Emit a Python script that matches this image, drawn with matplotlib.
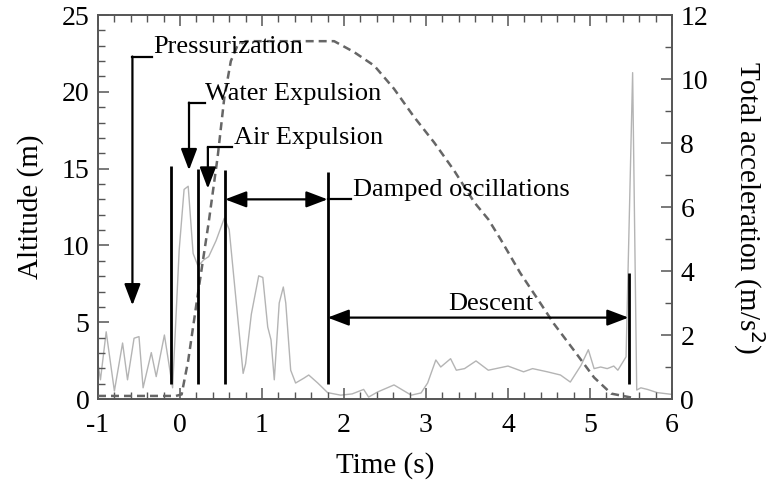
import matplotlib
matplotlib.use("Agg")
import matplotlib.pyplot as plt
from matplotlib.ticker import MultipleLocator

plt.rcParams['font.family'] = ['Liberation Serif', 'DejaVu Serif']
plt.rcParams['axes.unicode_minus'] = False

# altitude (m), dashed, left axis
alt_t = [-1.0, -0.2, -0.05, 0.02, 0.1, 0.22, 0.35, 0.46, 0.54, 0.62, 0.7, 0.8,
         1.88, 2.12, 2.37, 2.61, 2.85, 3.1, 3.34, 3.59, 3.76, 3.91, 4.15, 4.4,
         4.56, 4.8, 5.05, 5.26, 5.5]
alt_m = [0.2, 0.2, 0.2, 0.3, 2.5, 6.9, 11.5, 15.8, 19.6, 22.0, 23.0, 23.3,
         23.3, 22.6, 21.7, 20.2, 18.4, 16.7, 14.9, 12.8, 11.7, 10.4, 8.2, 6.2,
         4.9, 3.2, 1.4, 0.35, 0.1]

# total acceleration (m/s^2), grey, right axis
acc_t = [-1.0, -0.97, -0.9, -0.8, -0.7, -0.64, -0.56, -0.5, -0.45, -0.35, -0.29,
         -0.19, -0.09, -0.01, 0.05, 0.1, 0.16, 0.22, 0.29, 0.35, 0.44, 0.54, 0.6,
         0.77, 0.8, 0.87, 0.96, 1.01, 1.07, 1.11, 1.15, 1.21, 1.26, 1.29, 1.35,
         1.41, 1.51, 1.57, 1.68, 1.8, 1.96, 2.1, 2.24, 2.3, 2.41, 2.61, 2.82,
         2.94, 3.02, 3.12, 3.18, 3.3, 3.37, 3.47, 3.61, 3.76, 4.0, 4.19, 4.3,
         4.48, 4.64, 4.76, 4.89, 4.98, 5.05, 5.13, 5.21, 5.29, 5.34, 5.44, 5.52,
         5.57, 5.62, 5.7, 5.82, 5.98]
acc_v = [1.1, 0.6, 2.1, 0.25, 1.75, 0.6, 1.9, 1.95, 0.35, 1.45, 0.7,
         2.0, 0.35, 4.65, 6.55, 6.65, 4.55, 4.15, 4.35, 4.45, 4.95, 5.65, 5.3,
         0.8, 1.1, 2.65, 3.85, 3.8, 2.25, 1.85, 0.6, 3.0, 3.5, 3.0, 0.9,
         0.5, 0.65, 0.75, 0.5, 0.2, 0.12, 0.16, 0.3, 0.06, 0.22, 0.44, 0.12,
         0.19, 0.5, 1.22, 1.0, 1.26, 0.9, 0.95, 1.19, 0.9, 1.03, 0.85, 0.95,
         0.85, 0.75, 0.53, 1.05, 1.54, 0.95, 1.0, 0.95, 1.03, 0.9, 1.32, 10.2,
         0.28, 0.35, 0.3, 0.2, 0.15]

# phase boundaries (s) and the heights of their marker lines (m)
phase_t = [-0.11, 0.22, 0.55, 1.8, 5.47]
phase_top = [15.2, 15.0, 14.9, 14.8, 8.2]

fig = plt.figure(figsize=(7.74, 4.86), dpi=100)
ax = fig.add_axes([0.1266, 0.179, 0.7416, 0.790])
ax2 = ax.twinx()

ax2.plot(acc_t, acc_v, color='#b4b4b4', lw=1.0, zorder=1)
ax.plot(alt_t, alt_m, color='#666666', lw=1.8, dashes=(3.2, 2.0), zorder=3)
ax.vlines(phase_t, 1.0, phase_top, color='black', lw=2.0, zorder=4)

ax.set_zorder(ax2.get_zorder() + 1)
ax.patch.set_visible(False)

ax.set_xlim(-1, 6)
ax.set_ylim(0, 25)
ax2.set_ylim(0, 12)

ax.xaxis.set_major_locator(MultipleLocator(1))
ax.xaxis.set_minor_locator(MultipleLocator(0.2))
ax.yaxis.set_major_locator(MultipleLocator(5))
ax.yaxis.set_minor_locator(MultipleLocator(1))
ax2.yaxis.set_major_locator(MultipleLocator(2))
ax2.yaxis.set_minor_locator(MultipleLocator(1))

for a in (ax, ax2):
    for s in a.spines.values():
        s.set_color('#555555')
        s.set_linewidth(1.2)
ax.tick_params(which='both', direction='in', top=True, right=False,
               color='#555555', labelsize=20)
ax.tick_params(axis='x', which='both', pad=10)
ax.tick_params(axis='y', which='both', pad=6)
ax.tick_params(which='major', length=8, width=1.1)
ax.tick_params(which='minor', length=5, width=1.0)
ax2.tick_params(which='both', direction='in', color='#555555', labelsize=20, pad=6)
ax2.tick_params(which='major', length=8, width=1.1)
ax2.tick_params(which='minor', length=5, width=1.0)

ax.set_xlabel('Time (s)', fontsize=21, labelpad=10)
ax.set_ylabel('Altitude (m)', fontsize=21, labelpad=13)
ax2.set_ylabel('Total acceleration (m/s$^2$)', fontsize=21, rotation=270,
               labelpad=42)

head = dict(arrowstyle='-|>,head_length=1.0,head_width=0.38', mutation_scale=13,
            color='black', lw=1.6, shrinkA=0, shrinkB=0)
both = dict(arrowstyle='<|-|>,head_length=1.0,head_width=0.38', mutation_scale=13,
            color='black', lw=1.6, shrinkA=0, shrinkB=0)
fs = 19

# Pressurization
ax.plot([-0.58, -0.34], [22.3, 22.3], color='black', lw=1.6, zorder=5)
ax.annotate('', xy=(-0.58, 6.1), xytext=(-0.58, 22.3), arrowprops=head, zorder=5)
ax.text(-0.33, 22.5, 'Pressurization', fontsize=fs, va='baseline', ha='left')

# Water Expulsion
ax.plot([0.11, 0.3], [19.3, 19.3], color='black', lw=1.6, zorder=5)
ax.annotate('', xy=(0.11, 14.9), xytext=(0.11, 19.3), arrowprops=head, zorder=5)
ax.text(0.31, 19.5, 'Water Expulsion', fontsize=fs, va='baseline', ha='left')

# Air Expulsion
ax.plot([0.34, 0.63], [16.4, 16.4], color='black', lw=1.6, zorder=5)
ax.annotate('', xy=(0.34, 13.7), xytext=(0.34, 16.4), arrowprops=head, zorder=5)
ax.text(0.66, 16.6, 'Air Expulsion', fontsize=fs, va='baseline', ha='left')

# Damped oscillations
ax.annotate('', xy=(0.55, 13.0), xytext=(1.8, 13.0), arrowprops=both, zorder=5)
ax.plot([1.8, 2.09], [13.0, 13.0], color='black', lw=1.6, zorder=5)
ax.text(2.11, 13.2, 'Damped oscillations', fontsize=fs, va='baseline', ha='left')

# Descent
ax.annotate('', xy=(1.8, 5.3), xytext=(5.47, 5.3), arrowprops=both, zorder=5)
ax.text(3.79, 5.8, 'Descent', fontsize=fs, va='baseline', ha='center')

fig.savefig('out.png', dpi=100)
